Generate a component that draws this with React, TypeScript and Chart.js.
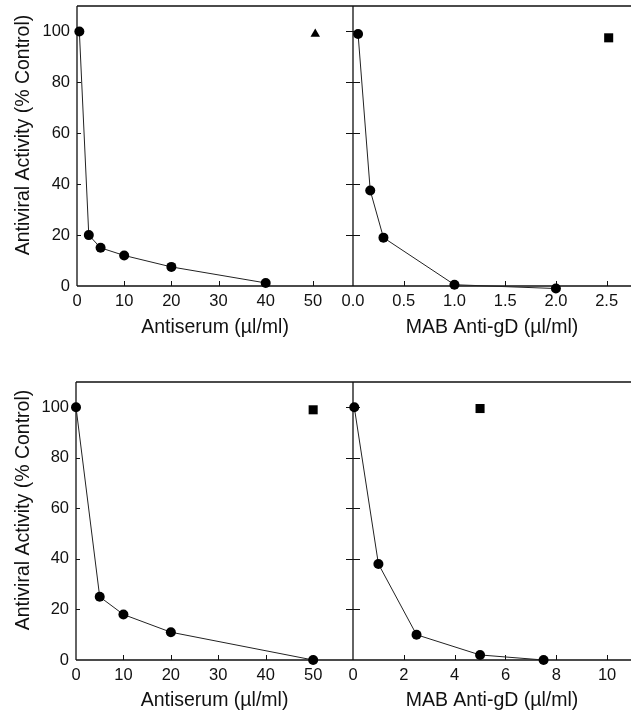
import React, { useEffect, useRef } from 'react';
import { Chart, registerables } from 'chart.js';

Chart.register(...registerables);

// ---------- data ----------
const Y_TICKS = [0, 20, 40, 60, 80, 100];
const Y_TICK_LABELS = ['0', '20', '40', '60', '80', '100'];
const Y_TITLE = 'Antiviral Activity (% Control)';

const ANTISERUM_TITLE = 'Antiserum (\u00b5l/ml)';
const MAB_TITLE = 'MAB Anti-gD (\u00b5l/ml)';

// top-left
const TL_X_TICKS = [0, 10, 20, 30, 40, 50];
const TL_X_LABELS = ['0', '10', '20', '30', '40', '50'];
const TL_CURVE_X = [0.5, 2.5, 5, 10, 20, 40];
const TL_CURVE_Y = [100, 20, 15, 12, 7.5, 1.2];
const TL_MARK_X = [50.5];
const TL_MARK_Y = [99];

// top-right
const TR_X_TICKS = [0, 0.5, 1, 1.5, 2, 2.5];
const TR_X_LABELS = ['0.0', '0.5', '1.0', '1.5', '2.0', '2.5'];
const TR_CURVE_X = [0.05, 0.17, 0.3, 1.0, 2.0];
const TR_CURVE_Y = [99, 37.5, 19, 0.5, -1];
const TR_MARK_X = [2.52];
const TR_MARK_Y = [97.5];

// bottom-left
const BL_X_TICKS = [0, 10, 20, 30, 40, 50];
const BL_X_LABELS = ['0', '10', '20', '30', '40', '50'];
const BL_CURVE_X = [0, 5, 10, 20, 50];
const BL_CURVE_Y = [100, 25, 18, 11, 0];
const BL_MARK_X = [50];
const BL_MARK_Y = [99];

// bottom-right
const BR_X_TICKS = [0, 2, 4, 6, 8, 10];
const BR_X_LABELS = ['0', '2', '4', '6', '8', '10'];
const BR_CURVE_X = [0.05, 1, 2.5, 5, 7.5];
const BR_CURVE_Y = [100, 38, 10, 2, 0];
const BR_MARK_X = [5];
const BR_MARK_Y = [99.5];

// ---------- styling ----------
const FONT = '"Liberation Sans", Arial, Helvetica, sans-serif';
const INK = '#111';

type Panel = {
  left: number; top: number; w: number; h: number;
  padTop: number; yAxisW: number; xAxisH: number;
  xMin: number; xMax: number; xTicks: number[]; xLabels: string[];
  xTitle: string; xTickPad: number; xTitlePadB: number;
  curveX: number[]; curveY: number[]; markX: number[]; markY: number[];
  markStyle: string; markRadius: number;
  leftPanel: boolean;
};

const PANELS: Panel[] = [
  {
    left: 0, top: 0, w: 353, h: 350, padTop: 6, yAxisW: 77, xAxisH: 64,
    xMin: 0, xMax: 58.5, xTicks: TL_X_TICKS, xLabels: TL_X_LABELS,
    xTitle: ANTISERUM_TITLE, xTickPad: 6, xTitlePadB: 11,
    curveX: TL_CURVE_X, curveY: TL_CURVE_Y, markX: TL_MARK_X, markY: TL_MARK_Y,
    markStyle: 'triangle', markRadius: 5.5, leftPanel: true,
  },
  {
    left: 320, top: 0, w: 311, h: 350, padTop: 6, yAxisW: 33, xAxisH: 64,
    xMin: 0, xMax: 2.74, xTicks: TR_X_TICKS, xLabels: TR_X_LABELS,
    xTitle: MAB_TITLE, xTickPad: 6, xTitlePadB: 11,
    curveX: TR_CURVE_X, curveY: TR_CURVE_Y, markX: TR_MARK_X, markY: TR_MARK_Y,
    markStyle: 'rect', markRadius: 6.4, leftPanel: false,
  },
  {
    left: 0, top: 360, w: 353, h: 353, padTop: 22, yAxisW: 76, xAxisH: 53,
    xMin: 0, xMax: 58.4, xTicks: BL_X_TICKS, xLabels: BL_X_LABELS,
    xTitle: ANTISERUM_TITLE, xTickPad: 6, xTitlePadB: 1,
    curveX: BL_CURVE_X, curveY: BL_CURVE_Y, markX: BL_MARK_X, markY: BL_MARK_Y,
    markStyle: 'rect', markRadius: 6.4, leftPanel: true,
  },
  {
    left: 320, top: 360, w: 311, h: 353, padTop: 22, yAxisW: 33, xAxisH: 53,
    xMin: 0, xMax: 10.94, xTicks: BR_X_TICKS, xLabels: BR_X_LABELS,
    xTitle: MAB_TITLE, xTickPad: 6, xTitlePadB: 1,
    curveX: BR_CURVE_X, curveY: BR_CURVE_Y, markX: BR_MARK_X, markY: BR_MARK_Y,
    markStyle: 'rect', markRadius: 6.4, leftPanel: false,
  },
];

function makeAxesPlugin(p: Panel) {
  return {
    id: 'axesFrame',
    beforeDatasetsDraw(chart: any) {
      const { ctx, chartArea } = chart;
      const xs = chart.scales.x;
      const ys = chart.scales.y;
      const { left, right, top, bottom } = chartArea;
      ctx.save();
      ctx.strokeStyle = INK;
      ctx.lineWidth = 1.3;
      ctx.beginPath();
      // y axis
      ctx.moveTo(left, top);
      ctx.lineTo(left, bottom);
      // x axis
      ctx.moveTo(left, bottom);
      ctx.lineTo(right, bottom);
      // top frame
      ctx.moveTo(left, top);
      ctx.lineTo(right, top);
      ctx.stroke();

      ctx.lineWidth = 1;
      ctx.beginPath();
      // x ticks (inward, upward)
      p.xTicks.forEach((v) => {
        if (v === p.xMin) return;
        const px = Math.round(xs.getPixelForValue(v)) + 0.5;
        ctx.moveTo(px, bottom);
        ctx.lineTo(px, bottom - 5);
      });
      // y ticks
      Y_TICKS.forEach((v) => {
        if (v === 0) return;
        const py = Math.round(ys.getPixelForValue(v)) + 0.5;
        if (p.leftPanel) {
          ctx.moveTo(left, py);
          ctx.lineTo(left + 4, py);
        } else {
          ctx.moveTo(left - 7, py);
          ctx.lineTo(left + 7, py);
        }
      });
      ctx.stroke();

      // y title for left panels
      if (p.leftPanel) {
        const cy = (top + bottom) / 2 - 11;
        ctx.fillStyle = INK;
        ctx.font = `19.5px ${FONT}`;
        ctx.textAlign = 'center';
        ctx.textBaseline = 'alphabetic';
        ctx.translate(29, cy);
        ctx.rotate(-Math.PI / 2);
        ctx.fillText(Y_TITLE, 0, 0);
      }
      ctx.restore();
    },
  };
}

function PanelChart({ p }: { p: Panel }) {
  const ref = useRef<HTMLCanvasElement | null>(null);
  useEffect(() => {
    if (!ref.current) return;
    const curve = p.curveX.map((x, i) => ({ x, y: p.curveY[i] }));
    const marks = p.markX.map((x, i) => ({ x, y: p.markY[i] }));
    const chart = new Chart(ref.current, {
      type: 'scatter',
      data: {
        datasets: [
          {
            data: curve,
            showLine: true,
            borderColor: '#222',
            borderWidth: 1,
            pointStyle: 'circle',
            pointRadius: 5,
            pointBackgroundColor: '#000',
            pointBorderColor: '#000',
            pointBorderWidth: 0,
            clip: false,
          } as any,
          {
            data: marks,
            showLine: false,
            pointStyle: p.markStyle,
            pointRadius: p.markRadius,
            pointBackgroundColor: '#000',
            pointBorderColor: '#000',
            pointBorderWidth: 0,
            clip: false,
          } as any,
        ],
      },
      options: {
        animation: false,
        responsive: false,
        maintainAspectRatio: false,
        events: [],
        layout: {
          autoPadding: false,
          padding: { top: p.padTop, left: 0, right: 0, bottom: 0 },
        },
        plugins: { legend: { display: false }, tooltip: { enabled: false } },
        scales: {
          x: {
            type: 'linear',
            min: p.xMin,
            max: p.xMax,
            grid: { display: false, drawTicks: false },
            border: { display: false },
            afterBuildTicks: (s: any) => {
              s.ticks = p.xTicks.map((v) => ({ value: v }));
            },
            afterFit: (s: any) => {
              s.height = p.xAxisH;
              s.paddingLeft = 0;
              s.paddingRight = 0;
            },
            ticks: {
              padding: p.xTickPad,
              color: INK,
              maxRotation: 0,
              autoSkip: false,
              font: { family: FONT, size: 16.5 },
              callback: (_v: any, i: number) => p.xLabels[i],
            },
            title: {
              display: true,
              text: p.xTitle,
              color: INK,
              font: { family: FONT, size: 19.5, lineHeight: 1.2 },
              padding: { top: 0, bottom: p.xTitlePadB },
            },
          },
          y: {
            type: 'linear',
            min: 0,
            max: 110,
            grid: { display: false, drawTicks: false },
            border: { display: false },
            afterBuildTicks: (s: any) => {
              s.ticks = Y_TICKS.map((v) => ({ value: v }));
            },
            afterFit: (s: any) => {
              s.width = p.yAxisW;
              s.paddingTop = 0;
              s.paddingBottom = 0;
            },
            ticks: {
              display: p.leftPanel,
              padding: 7,
              color: INK,
              font: { family: FONT, size: 16.5 },
              callback: (_v: any, i: number) => Y_TICK_LABELS[i],
            },
          },
        },
      } as any,
      plugins: [makeAxesPlugin(p)],
    });
    return () => chart.destroy();
  }, [p]);
  return (
    <canvas
      ref={ref}
      width={p.w}
      height={p.h}
      style={{
        position: 'absolute',
        left: p.left,
        top: p.top,
        width: p.w,
        height: p.h,
        display: 'block',
      }}
    />
  );
}

export default function App() {
  return (
    <div
      style={{
        position: 'absolute',
        left: 0,
        top: 0,
        width: 631,
        height: 713,
        background: '#fff',
        overflow: 'hidden',
      }}
    >
      {PANELS.map((p, i) => (
        <PanelChart key={i} p={p} />
      ))}
    </div>
  );
}
